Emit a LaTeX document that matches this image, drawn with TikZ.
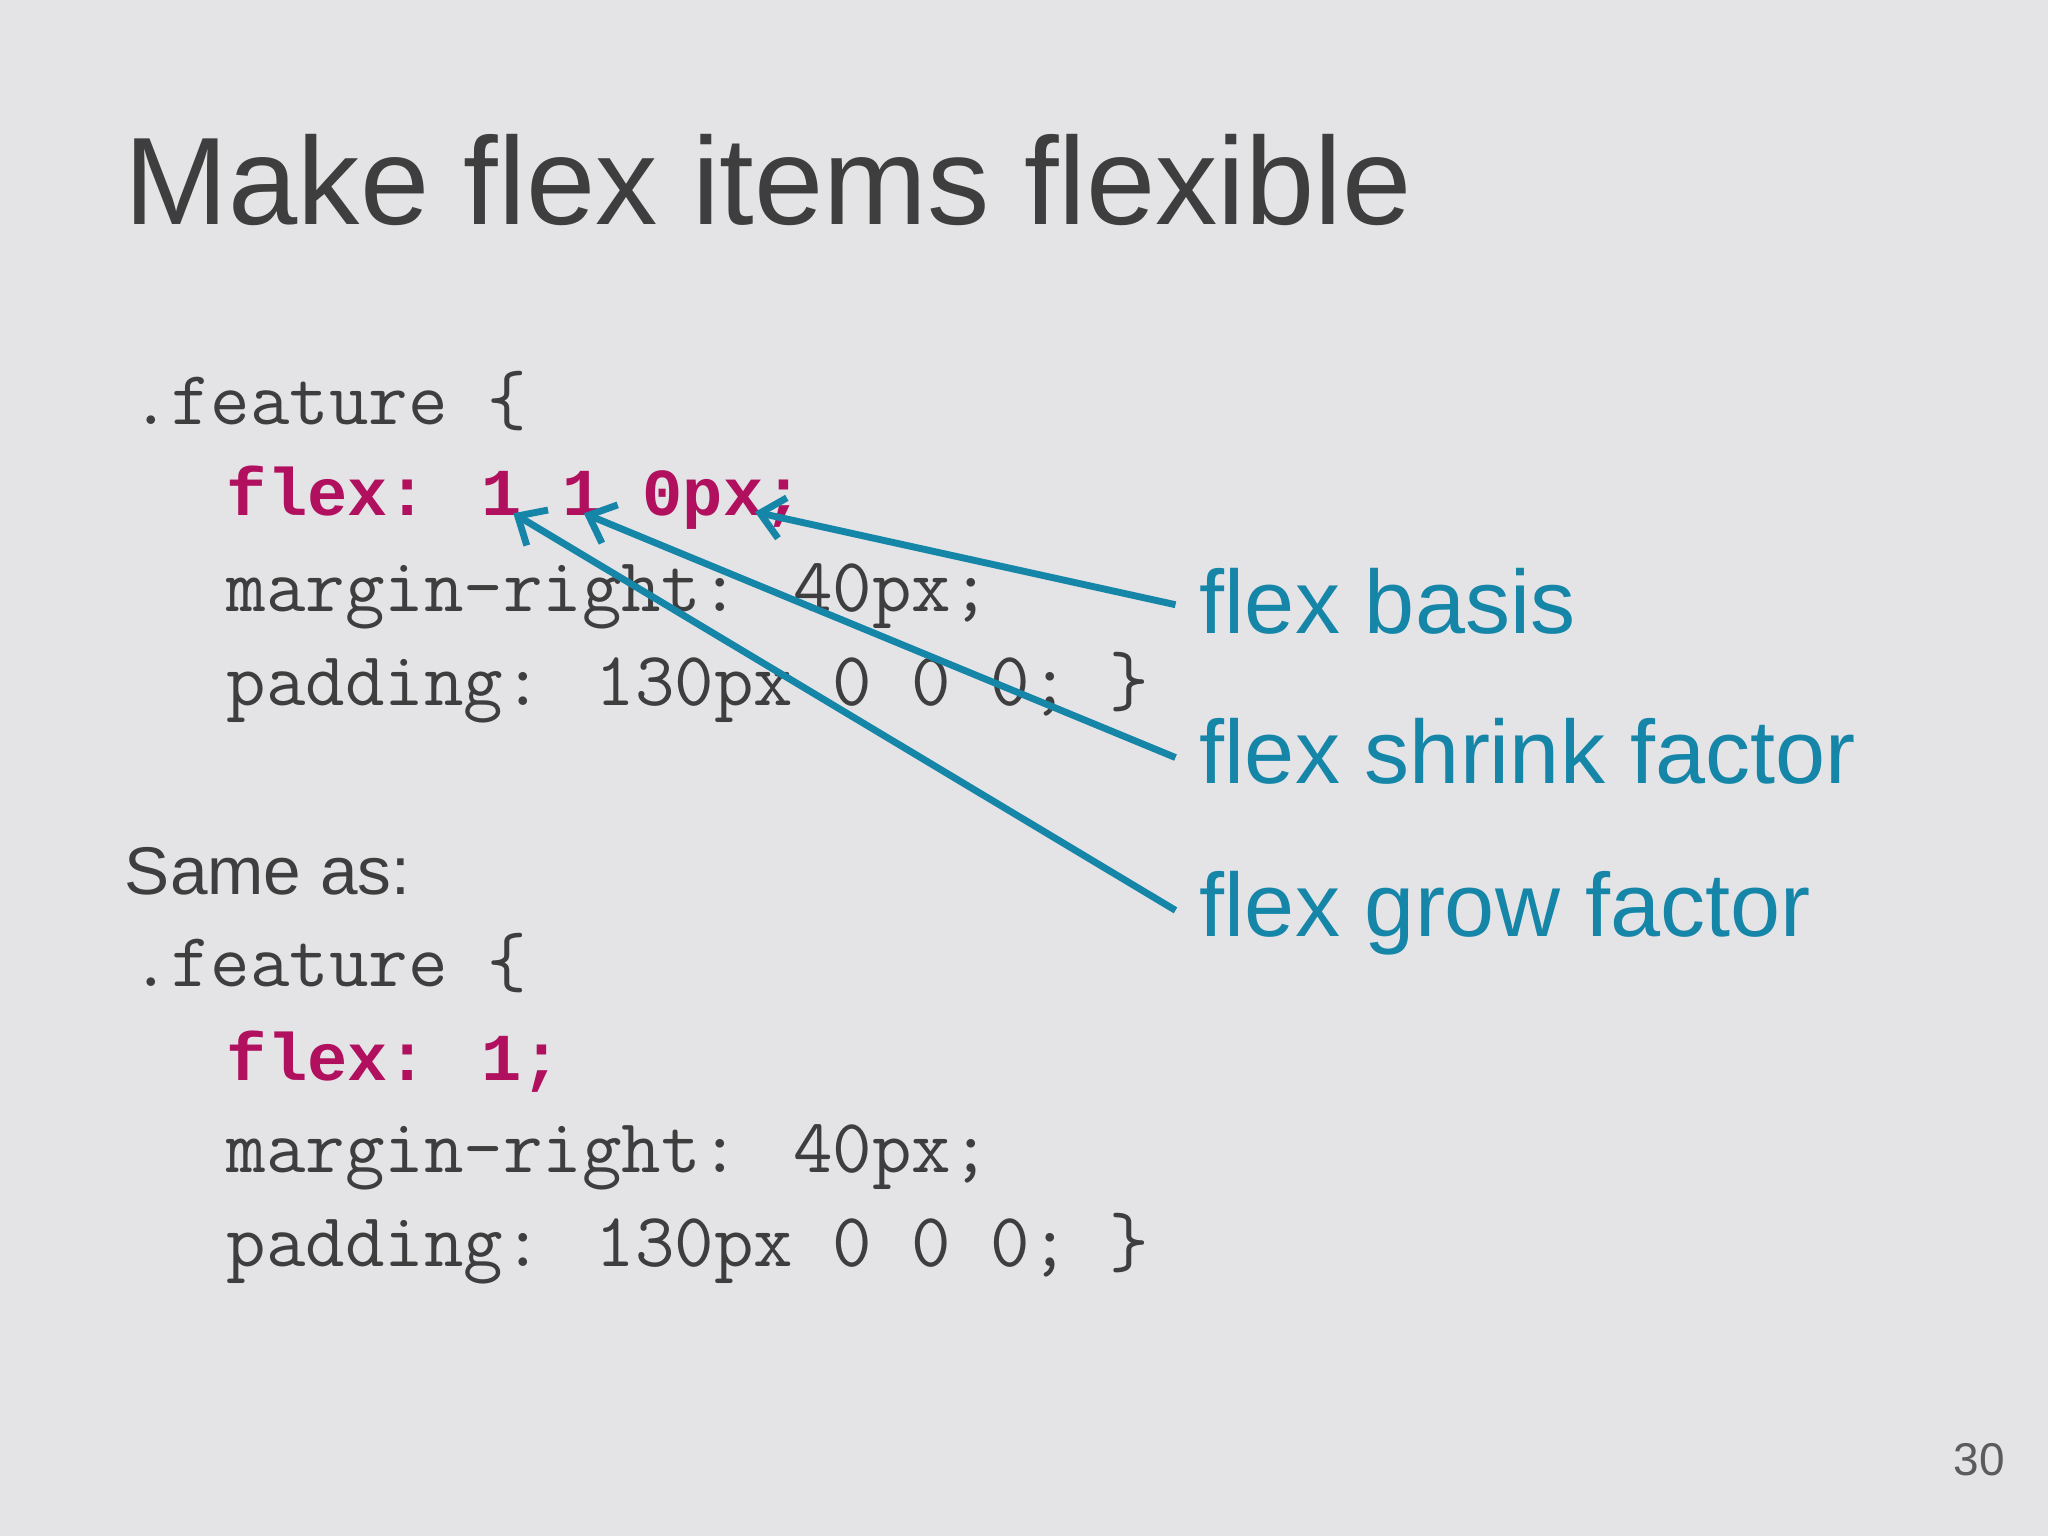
\documentclass[tikz,border=0pt]{standalone}
\usepackage{fontspec}
\setmainfont{Liberation Sans}
\newfontfamily\codefont{Liberation Mono}
\usetikzlibrary{arrows.meta}
\definecolor{bg}{HTML}{E4E4E7}
\definecolor{txt}{HTML}{3E3E3E}
\definecolor{mag}{HTML}{B0105E}
\definecolor{blu}{HTML}{1585A8}
\begin{document}
\begin{tikzpicture}[x=0.01cm,y=-0.01cm,
  code/.style={anchor=base west,inner sep=0pt,text=txt,font=\ttfamily\fontsize{16.7pt}{18pt}\selectfont},
  hot/.style={anchor=base west,inner sep=0pt,text=mag,font=\codefont\bfseries\fontsize{14.6pt}{16pt}\selectfont},
  lab/.style={anchor=base west,inner sep=0pt,text=blu,font=\fontsize{19.6pt}{22pt}\selectfont},
  arr/.style={draw=blu,line width=1.5pt,-{Straight Barb[length=5pt,width=9pt,line width=1.5pt]}}]
\fill[bg] (0,0) rectangle (1568,1176);
\useasboundingbox (0,0) rectangle (1568,1176);
\node[anchor=base west,inner sep=0pt,text=txt,font=\fontsize{27.1pt}{30pt}\selectfont] (title) at (95,172) {Make flex items flexible};
\node[code] (c1) at (100,325) {.feature \{};
\node[hot] (c2) at (173,395) {flex: 1 1 0px;};
\node[code] (c3) at (173,468) {margin-right: 40px;};
\node[code] (c4) at (173,540) {padding: 130px 0 0 0; \}};
\node[anchor=base west,inner sep=0pt,text=txt,font=\fontsize{14.7pt}{16pt}\selectfont] (same) at (95,685) {Same as:};
\node[code] (d1) at (100,755) {.feature \{};
\node[hot] (d2) at (173,827) {flex: 1;};
\node[code] (d3) at (173,898) {margin-right: 40px;};
\node[code] (d4) at (173,970) {padding: 130px 0 0 0; \}};
\node[lab] (lb) at (918,485) {flex basis};
\node[lab] (ls) at (918,600) {flex shrink factor};
\node[lab] (lg) at (918,717) {flex grow factor};
\coordinate (tb) at (578,392);
\coordinate (ts) at (447,393);
\coordinate (tg) at (393,393);
\coordinate (sb) at (900,463);
\coordinate (ss) at (900,580);
\coordinate (sg) at (900,697);
\draw[arr] (sb) -- (tb);
\draw[arr] (ss) -- (ts);
\draw[arr] (sg) -- (tg);
\node[anchor=base west,inner sep=0pt,text=txt!85,font=\fontsize{10pt}{12pt}\selectfont] (pg) at (1495,1130) {30};
\end{tikzpicture}
\end{document}
